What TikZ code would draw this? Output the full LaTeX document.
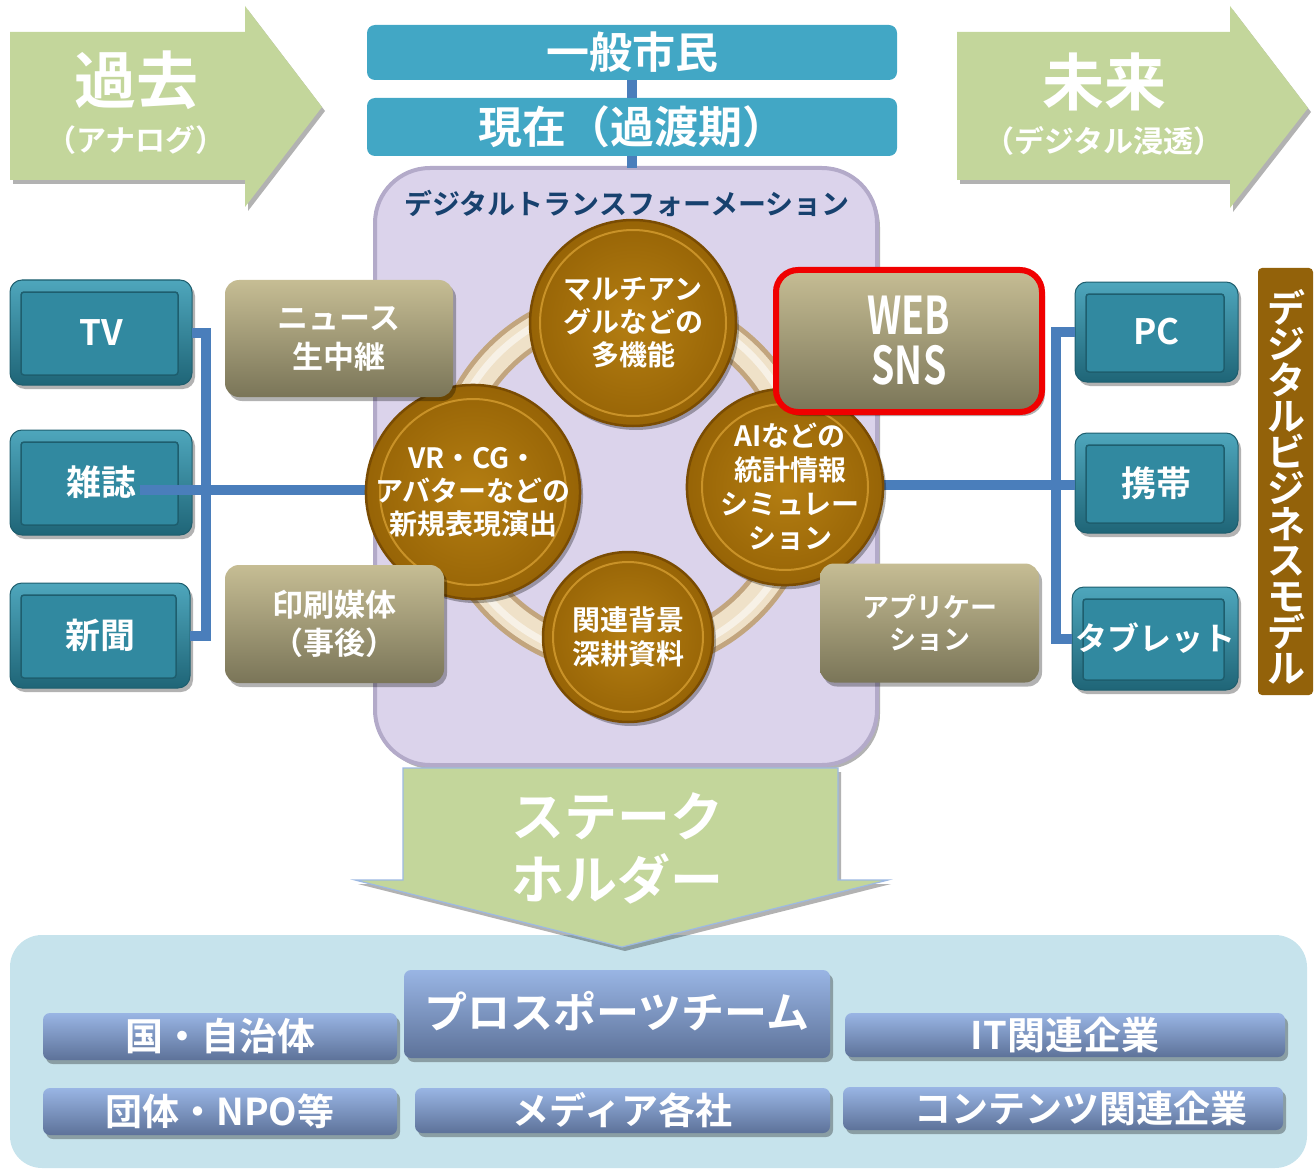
\documentclass[tikz,border=0pt]{standalone}
\usepackage{fontspec}
\usepackage{graphicx}
\setmainfont{Noto Sans CJK JP}[BoldFont={Noto Sans CJK JP Bold}]
\usetikzlibrary{shadows}
\definecolor{grn}{HTML}{C3D69B}
\definecolor{grnedge}{HTML}{9DB9E2}
\definecolor{topblue}{HTML}{42A7C5}
\definecolor{conncol}{HTML}{4A7EBB}
\definecolor{purp}{HTML}{DBD3EB}
\definecolor{purpedge}{HTML}{B3AAC9}
\definecolor{navy}{HTML}{17416E}
\definecolor{devtop}{HTML}{4EA6BC}
\definecolor{devbot}{HTML}{1F6577}
\definecolor{devin}{HTML}{3189A0}
\definecolor{devline}{HTML}{1E5E6E}
\definecolor{olt}{HTML}{C6BD94}
\definecolor{olb}{HTML}{7A7558}
\definecolor{cin}{HTML}{B47E12}
\definecolor{cout}{HTML}{976406}
\definecolor{crim}{HTML}{7A4C02}
\definecolor{cring}{HTML}{C99228}
\definecolor{ringdark}{HTML}{C2A57E}
\definecolor{ringlight}{HTML}{EFE1C8}
\definecolor{brn}{HTML}{93620A}
\definecolor{panel}{HTML}{C6E3EC}
\definecolor{sbt}{HTML}{99B5E4}
\definecolor{sbb}{HTML}{5D7299}
\definecolor{redb}{HTML}{F00000}
\newcommand\fs[2]{\fontsize{#1}{#2}\selectfont\bfseries}
\begin{document}
\begin{tikzpicture}[x=1pt, y=-1pt,
  every node/.style={inner sep=0pt, outer sep=0pt},
  sh/.style={drop shadow={shadow xshift=3pt, shadow yshift=-4pt, opacity=0.3, fill=black}},
  wtxt/.style={text=white, align=center},
  conn/.style={draw=conncol, line width=10pt},
  topbox/.style={rounded corners=8pt, fill=topblue, text=white, minimum width=530pt, font=\fs{43}{43}},
  device/.style={rounded corners=12pt, top color=devtop, bottom color=devbot, draw=devline, line width=1pt, sh,
    text=white, font=\fs{35}{35},
    path picture={\fill[devin, draw=devline, line width=1.5pt, rounded corners=3pt]
      ([shift={(11pt,-12pt)}]path picture bounding box.north west) rectangle
      ([shift={(-14pt,10pt)}]path picture bounding box.south east);}},
  olive/.style={rounded corners=14pt, top color=olt, bottom color=olb, sh, text=white, align=center},
  coin/.style={circle, minimum size={2*#1pt}, inner color=cin, outer color=cout, draw=crim, line width=2.5pt, sh,
    text=white, align=center, font=\fs{28}{33},
    path picture={\draw[cring, line width=2pt] (path picture bounding box.center) circle[radius={#1pt-10pt}];}},
  sbox/.style={rounded corners=7pt, top color=sbt, bottom color=sbb, sh, text=white}
]
\useasboundingbox (0,0) rectangle (1315,1169);

% --- past / future arrows
\fill[grn, sh] (10,32) -- (245,32) -- (245,6) -- (322,107) -- (245,207) -- (245,180) -- (10,180) -- cycle;
\node[wtxt, font=\fs{62}{62}] (kako) at (136,80) {過去};
\node[wtxt, font=\fs{30}{30}] (kakosub) at (136,140) {（アナログ）};
\fill[grn, sh] (957,32) -- (1230,32) -- (1230,6) -- (1308,108) -- (1230,208) -- (1230,180) -- (957,180) -- cycle;
\node[wtxt, font=\fs{62}{62}] (mirai) at (1104,82) {未来};
\node[wtxt, font=\fs{30}{30}] (miraisub) at (1104,141) {（デジタル浸透）};

% --- top boxes
\node[topbox, minimum height=55pt] (ippan) at (632,52.5) {一般市民};
\node[topbox, minimum height=58pt, font=\fs{44}{44}] (genzai) at (632,127) {現在（過渡期）};

% --- digital transformation panel
\node[rounded corners=55pt, fill=purp, draw=purpedge, line width=4pt, sh,
      minimum width=502pt, minimum height=597pt] (dx) at (626,466.5) {};
\draw[conn] (ippan.south) -- (genzai.north);
\draw[conn] (genzai.south) -- (genzai.south |- dx.north);
\node[text=navy, font=\fs{28}{28}] (dxt) at (627,203) {デジタルトランスフォーメーション};

% ring
\draw[ringdark, line width=36pt] (624,481) circle [radius=176];
\draw[ringlight, line width=26pt] (624,481) circle [radius=176];
\draw[white, opacity=0.55, line width=7pt] (624,481) circle [radius=179];

% --- device boxes
\node[device, minimum width=182pt, minimum height=105pt] (tv) at (101,332.5) {TV};
\node[device, minimum width=182pt, minimum height=105pt] (zasshi) at (101,482.5) {雑誌};
\node[device, minimum width=180pt, minimum height=105pt] (shinbun) at (100,635.5) {新聞};
\node[device, minimum width=163pt, minimum height=100pt] (pc) at (1156.5,332) {PC};
\node[device, minimum width=163pt, minimum height=100pt] (keitai) at (1156.5,483) {携帯};
\node[device, minimum width=166pt, minimum height=103pt, font=\fs{32}{32}] (tablet) at (1155,638.5) {タブレット};

% --- connectors (under the coins)
\coordinate (zl) at (140,490);
\coordinate (lbus) at (206,490);
\coordinate (rbus) at (1056,485);
\coordinate (vrw) at (380,490);
\coordinate (aie) at (870,485);
\draw[conn] (tv.east) -| (lbus) |- (shinbun.east);
\draw[conn] (zl) -- (vrw);
\draw[conn] (pc.west) -| (rbus) |- (tablet.west);
\draw[conn] (aie) -- (aie -| keitai.west);

% --- coins
\node[coin=103] (multi) at (633,323) {マルチアン\\グルなどの\\多機能};
\node[coin=103] (vr) at (473,492) {VR・CG・\\アバターなどの\\新規表現演出};
\node[coin=93, font=\fs{28}{34}] (ai) at (785,487) {\hspace*{10pt}AIなどの\\\hspace*{10pt}統計情報\\\hspace*{10pt}シミュレー\\\hspace*{10pt}ション};
\node[coin=85, font=\fs{28}{34}] (kanren) at (628,637) {関連背景\\深耕資料};

% --- olive boxes
\node[olive, minimum width=228pt, minimum height=117pt, font=\fs{31}{39}] (news) at (339,338.5) {ニュース\\生中継};
\node[olive, minimum width=219pt, minimum height=118pt, font=\fs{31}{38}] (insatsu) at (334.5,624) {印刷媒体\\（事後）};
\node[olive, draw=redb, line width=6pt, rounded corners=22pt, minimum width=266pt, minimum height=142pt,
      font=\fs{52}{50}] (web) at (909,341) {\scalebox{0.72}[1]{WEB}\\\scalebox{0.72}[1]{SNS}};
\node[olive, minimum width=219pt, minimum height=119pt, font=\fs{27}{32}] (appli) at (929.5,623) {アプリケー\\ション};

% --- vertical label
\node[fill=brn, rounded corners=4pt, minimum width=55pt, minimum height=427pt] (dbm) at (1285.5,481.5) {};
\node[text=white, align=center, font=\fs{38}{36}] (dbmt) at (1286,487) {デ\\ジ\\タ\\ル\\ビ\\ジ\\ネ\\ス\\モ\\デ\\ル};

% --- stakeholder panel
\fill[panel] [rounded corners=32pt] (10,935) rectangle (1307,1168);
\path[fill=grn, draw=grnedge, line width=1.2pt, sh] (403,768) -- (838,768) -- (838,880) -- (888,880) -- (622,947) -- (355,880) -- (403,880) -- cycle;
\node[wtxt, font=\fs{53}{63}] (stake) at (617,848) {ステーク\\ホルダー};

\node[sbox, minimum width=354pt, minimum height=47pt, font=\fs{38}{38}] (kuni) at (220,1036.5) {国・自治体};
\node[sbox, minimum width=426pt, minimum height=88pt, font=\fs{43}{43}] (pro) at (617,1014) {\raisebox{9pt}{プロスポーツチーム}};
\node[sbox, minimum width=440pt, minimum height=44pt, font=\fs{38}{38}] (itk) at (1065,1035) {IT関連企業};
\node[sbox, minimum width=354pt, minimum height=47pt, font=\fs{37}{37}] (dantai) at (220,1111.5) {団体・NPO等};
\node[sbox, minimum width=415pt, minimum height=45pt, font=\fs{37}{37}] (media) at (622.5,1110.5) {メディア各社};
\node[sbox, minimum width=440pt, minimum height=43pt, font=\fs{37}{37}] (contents) at (1063,1108.5) {\hspace*{36pt}コンテンツ関連企業};
\end{tikzpicture}
\end{document}
